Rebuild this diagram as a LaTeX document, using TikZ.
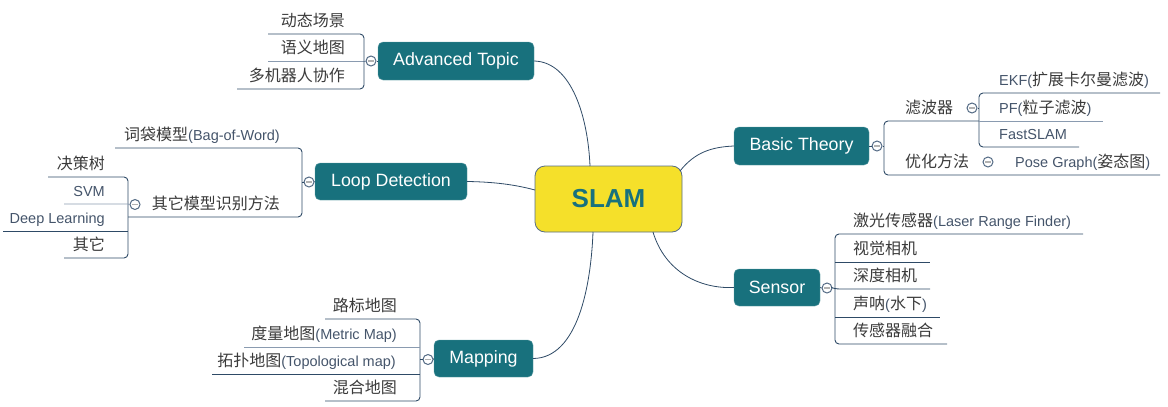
\documentclass[tikz,border=0pt]{standalone}
\usepackage{fontspec}
\setmainfont{Liberation Sans}
\newfontfamily\cjk{Noto Sans CJK SC}
\definecolor{topicteal}{HTML}{18717D}
\definecolor{slamyellow}{HTML}{F5E02A}
\definecolor{navyline}{HTML}{2E4A66}
\definecolor{lightline}{HTML}{8A9BB0}
\definecolor{cjkcol}{HTML}{3A3A3A}
\definecolor{latcol}{HTML}{44546A}
\newcommand\zh[1]{{\cjk\fontsize{16}{18}\selectfont\color{cjkcol}#1}}
\tikzset{
  topic/.style={fill=topicteal, draw=topicteal!70!white, rounded corners=5pt, text=white,
    font=\fontsize{17.8}{20}\selectfont, inner sep=0pt},
  central/.style={fill=slamyellow, draw=navyline!80, line width=0.8pt, rounded corners=10pt,
    text=topicteal, font=\fontsize{26}{30}\selectfont\bfseries, inner sep=0pt},
  leaf/.style={inner sep=0pt, text=latcol, font=\fontsize{14.5}{17}\selectfont},
  conn/.style={draw=navyline, line width=0.8pt},
  brk/.style={draw=navyline, line width=0.9pt, rounded corners=4pt},
  brkl/.style={draw=lightline, line width=0.9pt},
  collapse/.style={circle, draw=navyline!60!lightline, fill=white, line width=1pt, inner sep=0pt,
    minimum size=10pt,
    path picture={\draw[black!30, line width=1.2pt]
      ([xshift=2.4pt]path picture bounding box.west) -- ([xshift=-2.4pt]path picture bounding box.east);}}
}
\begin{document}
\begin{tikzpicture}[x=1pt,y=-1pt]
\useasboundingbox (0,0) rectangle (1168,407);

% central and main topics
\node[central, minimum width=147pt, minimum height=66pt] (slam) at (608.5,199) {SLAM};
\node[topic, minimum width=156pt, minimum height=38pt] (AT) at (456,61) {Advanced Topic};
\node[topic, minimum width=152pt, minimum height=37pt] (LD) at (391,181.5) {Loop Detection};
\node[topic, minimum width=135pt, minimum height=38pt] (BT) at (801.5,146) {Basic Theory};
\node[topic, minimum width=86pt, minimum height=37pt] (SE) at (777,287.5) {Sensor};
\node[topic, minimum width=99pt, minimum height=37pt] (MP) at (483.5,358.5) {Mapping};

% attach points on SLAM
\coordinate (sAT) at (590,166);
\coordinate (sLD) at (535,190);
\coordinate (sBT) at (680,171);
\coordinate (sSE) at (653,232);
\coordinate (sMP) at (593,232);

\draw[conn] (AT.east) .. controls (572,62) and (588,118) .. (sAT);
\draw[conn] (LD.east) .. controls (500,182) and (520,186) .. (sLD);
\draw[conn] (sBT) .. controls (695,152) and (712,147) .. (BT.west);
\draw[conn] (sSE) .. controls (665,272) and (700,289) .. (SE.west);
\draw[conn] (MP.east) .. controls (578,358) and (591,285) .. (sMP);

% ---------- Advanced Topic ----------
\node[collapse] (cAT) at (371,61) {};
\draw[brkl] (268,61) -- (cAT.west);
\draw[conn] (cAT.east) -- (AT.west);
\draw[brk] (268,34) -- (364,34) -- (364,89) -- (237,89);
\node[leaf, anchor=base east] (at1) at (345,26) {\zh{动态场景}};
\node[leaf, anchor=base east] (at2) at (345,53) {\zh{语义地图}};
\node[leaf, anchor=base east] (at3) at (345,81) {\zh{多机器人协作}};

% ---------- Loop Detection ----------
\node[collapse] (cLD) at (309,182) {};
\draw[conn] (cLD.east) -- (LD.west);
\draw[brk] (115,148) -- (302,148) -- (302,217) -- (128,217);
\draw[brk] (302,182) -- (cLD.west);
\node[leaf, anchor=base east] (ld1) at (280,140) {\zh{词袋模型}(Bag-of-Word)};
\node[leaf, anchor=base east] (ld2) at (280,209) {\zh{其它模型识别方法}};
\node[collapse] (cLD2) at (135,204.5) {};
\draw[brk] (48,177) -- (128,177) -- (128,258) -- (64,258);
\draw[brkl] (64,204) -- (128,204) -- (cLD2.west);
\draw[brk] (3,231) -- (128,231);
\node[leaf, anchor=base east] (ld21) at (105,169) {\zh{决策树}};
\node[leaf, anchor=base east] (ld22) at (105,196) {SVM};
\node[leaf, anchor=base east] (ld23) at (105,223) {Deep Learning};
\node[leaf, anchor=base east] (ld24) at (105,250) {\zh{其它}};

% ---------- Basic Theory ----------
\node[collapse] (cBT) at (877,146) {};
\draw[conn] (BT.east) -- (cBT.west);
\draw[brk] (979,121) -- (884,121) -- (884,175) -- (1160,175);
\draw[brk] (cBT.east) -- (884,146);
\node[leaf, anchor=base west] (bt1) at (905,113) {\zh{滤波器}};
\node[collapse] (cBT1) at (972,108) {};
\draw[brk] (cBT1.east) -- (979,108);
\draw[brk] (1160,93) -- (979,93) -- (979,147) -- (1079,147);
\draw[brkl] (979,121) -- (1103,121);
\node[leaf, anchor=base west] (bt11) at (999,85) {EKF(\zh{扩展卡尔曼滤波})};
\node[leaf, anchor=base west] (bt12) at (999,113) {PF(\zh{粒子滤波})};
\node[leaf, anchor=base west] (bt13) at (999,139) {FastSLAM};
\node[leaf, anchor=base west] (bt2) at (905,167) {\zh{优化方法}};
\node[collapse] (cBT2) at (988,162) {};
\node[leaf, anchor=base west] (bt21) at (1015,167) {Pose Graph(\zh{姿态图})};

% ---------- Sensor ----------
\node[collapse] (cSE) at (827,288) {};
\draw[conn] (SE.east) -- (cSE.west);
\draw[brk] (1083,234) -- (835,234) -- (835,344) -- (947,344);
\draw[brk] (cSE.east) -- (835,289) -- (930,289);
\draw[brk] (835,262) -- (930,262);
\draw[brk] (835,317) -- (940,317);
\node[leaf, anchor=base west] (se1) at (853,226) {\zh{激光传感器}(Laser Range Finder)};
\node[leaf, anchor=base west] (se2) at (853,254) {\zh{视觉相机}};
\node[leaf, anchor=base west] (se3) at (853,281) {\zh{深度相机}};
\node[leaf, anchor=base west] (se4) at (853,309) {\zh{声呐}(\zh{水下})};
\node[leaf, anchor=base west] (se5) at (853,336) {\zh{传感器融合}};

% ---------- Mapping ----------
\node[collapse] (cMP) at (428,359.5) {};
\draw[conn] (cMP.east) -- (MP.west);
\draw[brk] (325,319) -- (420,319) -- (420,401) -- (325,401);
\draw[brkl] (244,347) -- (420,347);
\draw[brk] (212,374) -- (420,374);
\draw[brk] (420,359.5) -- (cMP.west);
\node[leaf, anchor=base east] (mp1) at (397,311) {\zh{路标地图}};
\node[leaf, anchor=base east] (mp2) at (397,339) {\zh{度量地图}(Metric Map)};
\node[leaf, anchor=base east] (mp3) at (396,366) {\zh{拓扑地图}(Topological map)};
\node[leaf, anchor=base east] (mp4) at (397,393) {\zh{混合地图}};
\end{tikzpicture}
\end{document}
